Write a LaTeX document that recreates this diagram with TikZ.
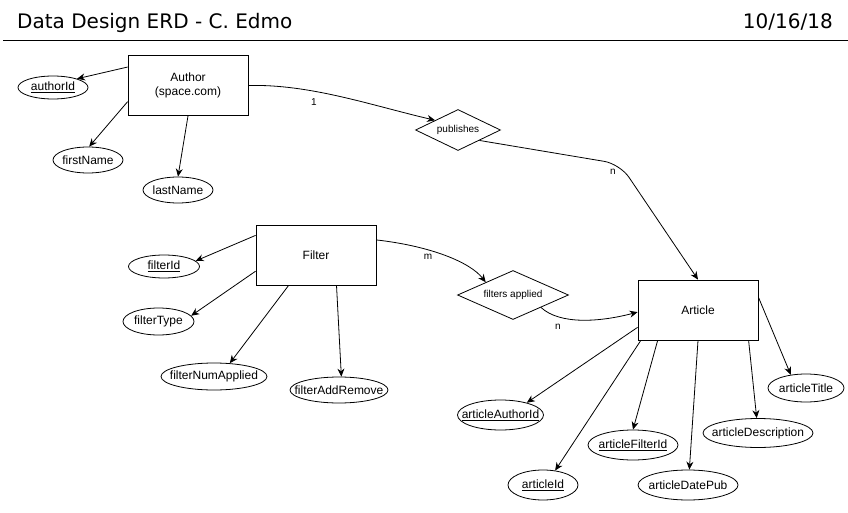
\documentclass[tikz,border=0pt]{standalone}
\usepackage{fontspec}
\setmainfont{Liberation Sans}
\newfontfamily\titlefont{DejaVu Sans}
\usetikzlibrary{shapes.geometric,arrows.meta}
\begin{document}
\begin{tikzpicture}[x=1pt,y=-1pt,
 ent/.style={draw, line width=0.8pt, minimum width=120pt, minimum height=60pt, inner sep=2pt, font=\fontsize{12}{14}\selectfont, align=center},
 attr/.style={draw, ellipse, line width=0.8pt, inner xsep=-25pt, inner ysep=-10pt, font=\fontsize{12}{14}\selectfont},
 rel/.style={draw, diamond, line width=0.8pt, inner sep=-30pt, font=\fontsize{10}{12}\selectfont},
 card/.style={font=\fontsize{10}{12}\selectfont, inner sep=0pt},
 conn/.style={line width=0.8pt, -{Stealth[length=8pt,width=7pt]}},
 ttl/.style={font=\titlefont\fontsize{20}{24}\selectfont, inner sep=0pt},
]
\fill[white] (0,0) rectangle (848,513);
\useasboundingbox (0,0) rectangle (848,513);

% title
\node[ttl, anchor=base west] (title) at (17,29) {Data Design ERD - C. Edmo};
\node[ttl, anchor=base east] (date) at (833,29) {10/16/18};
\coordinate (hl) at (3,40);
\coordinate (hr) at (848,40);
\draw[line width=0.8pt] (hl) -- (hr);

% entities
\node[ent] (author) at (188,85.5) {Author\\(space.com)};
\node[ent] (filter) at (316,255) {Filter};
\node[ent] (article) at (698,310) {Article};

% relationships
\node[rel, minimum width=85pt, minimum height=41pt] (pub) at (458,130) {publishes};
\node[rel, minimum width=111pt, minimum height=49pt] (fa) at (513,295) {filters applied};

% attributes
\node[attr, minimum width=70pt, minimum height=23pt] (aid) at (53,87.5) {\underline{authorId}};
\node[attr, minimum width=70pt, minimum height=26pt] (fn) at (88,160) {firstName};
\node[attr, minimum width=70pt, minimum height=26pt] (ln) at (178,190) {lastName};

\node[attr, minimum width=71pt, minimum height=23pt] (fid) at (164,266.5) {\underline{filterId}};
\node[attr, minimum width=71pt, minimum height=27pt] (ft) at (158.5,321.5) {filterType};
\node[attr, minimum width=106pt, minimum height=27pt] (fna) at (214,376.5) {filterNumApplied};
\node[attr, minimum width=98pt, minimum height=26pt] (far) at (339,390) {filterAddRemove};

\node[attr, minimum width=76pt, minimum height=28pt] (at) at (806,388) {articleTitle};
\node[attr, minimum width=110pt, minimum height=29pt] (ad) at (758,433) {articleDescription};
\node[attr, minimum width=100pt, minimum height=30pt] (adp) at (688,485) {articleDatePub};
\node[attr, minimum width=90pt, minimum height=30pt] (afi) at (633,445) {\underline{articleFilterId}};
\node[attr, minimum width=70pt, minimum height=30pt] (artid) at (543,485) {\underline{articleId}};
\node[attr, minimum width=86pt, minimum height=30pt] (aai) at (500.5,415) {\underline{articleAuthorId}};

% cardinality labels
\node[card] (c1) at (314,102) {1};
\node[card] (cn1) at (613,172) {n};
\node[card] (cm) at (428,257) {m};
\node[card] (cn2) at (558,327) {n};

% attribute connectors
\draw[conn] (author.163) -- (aid.20);
\draw[conn] (author.195) -- (fn.85);
\draw[conn] (author.south) -- (ln.north);

\draw[conn] (filter.162) -- (fid.10);
\draw[conn] (filter.195) -- (ft.10);
\draw[conn] (filter.228) -- (fna.40);
\draw[conn] (filter.-56) -- (far.80);

\draw[conn] (article.12) -- (at.139);
\draw[conn] (article.-31.5) -- (ad.95);
\draw[conn] (article.south) -- (adp.85);
\draw[conn] (article.217) -- (afi.north);
\draw[conn] (article.208) -- (artid.50);
\draw[conn] (article.196) -- (aai.25);

% relationship connectors
\coordinate (bend) at (620,164);
\draw[conn] (author.east) .. controls (310,84) and (370,105) .. (pub.157);
\draw[conn, rounded corners=16pt] (pub.-26) -- (bend) -- (article.north);
\draw[conn] (filter.14) .. controls (430,246) and (470,262) .. (fa.155);
\draw[conn] (fa.-24) .. controls (560,325) and (600,322) .. (article.182);
\end{tikzpicture}
\end{document}
